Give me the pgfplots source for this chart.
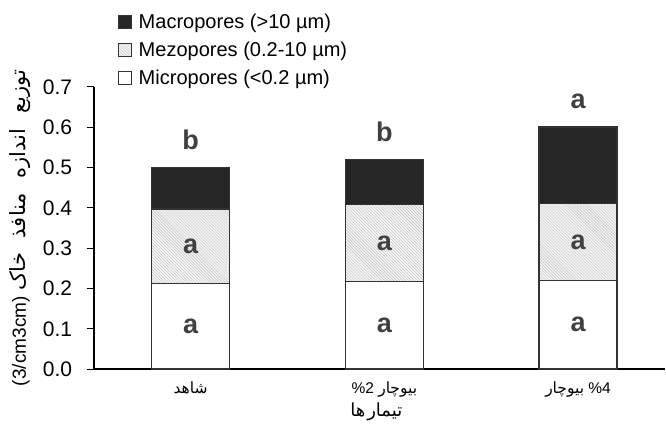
\documentclass[border=0pt]{standalone}
\usepackage{pgfplots}
\pgfplotsset{compat=1.18}
\usetikzlibrary{patterns}
\usepackage{fontspec}
\setmainfont{Liberation Sans}
\newfontfamily\arabicfont[Script=Arabic]{DejaVu Sans}
\TeXXeTstate=1
\definecolor{macro}{HTML}{262626}
\definecolor{edge}{HTML}{333333}
\definecolor{lett}{HTML}{404040}
\newcommand{\fa}[1]{{\arabicfont\beginR #1\endR}}
\begin{document}
\begin{tikzpicture}
  \begin{axis}[
    scale only axis,
    width=571bp,
    height=282bp,
    ybar stacked,
    bar width=78bp,
    xmin=-0.5, xmax=2.45,
    ymin=0, ymax=0.7,
    enlargelimits=false,
    clip=false,
    axis x line=bottom,
    axis y line=left,
    axis line style={-, black, line width=1.6bp},
    xtick={0,1,2},
    xticklabels={
      {\fa{شاهد}},
      {\%2 \fa{بیوچار}},
      {\fa{بیوچار} \%4}},
    major x tick style={draw=none},
    ytick={0,0.1,0.2,0.3,0.4,0.5,0.6,0.7},
    tick align=outside,
    major tick length=7bp,
    y tick style={black, line width=1.2bp},
    /pgf/number format/assume math mode=true,
    yticklabel style={/pgf/number format/.cd, fixed, fixed zerofill, precision=1,
      /tikz/.cd, xshift=-11bp},
    tick label style={font=\fontsize{21bp}{24bp}\selectfont},
    xticklabel style={font=\fontsize{15.5bp}{18bp}\selectfont, yshift=-2bp},
    ylabel={(3/cm3cm) {\fontsize{21bp}{24bp}\selectfont\fa{توزیع\hspace{8bp} اندازه\hspace{8bp} منافذ\hspace{8bp} خاک}}},
    ylabel style={at={(axis description cs:-0.128,0.5)}, anchor=center,
      inner ysep=10bp, font=\fontsize{19bp}{22bp}\selectfont},
    xlabel={\fa{تیمار\hspace{2bp}ها}},
    xlabel style={at={(axis cs:1,0)}, anchor=center, xshift=-8bp, yshift=-43bp, inner ysep=10bp,
      font=\fontsize{18bp}{21bp}\selectfont},
    legend style={at={(axis description cs:0.042,1.3085)}, anchor=north west, draw=none, fill=none,
      font=\fontsize{20bp}{23bp}\selectfont, row sep=8bp, inner xsep=0pt, inner ysep=12bp,
      /tikz/every odd column/.append style={column sep=5bp}},
    legend cell align=left,
    reverse legend,
    legend image code/.code={\draw[#1, line width=0.8bp] (0bp,-6.5bp) rectangle (13bp,6.5bp);},
    nodes near coords,
    point meta=explicit symbolic,
    every node near coord/.append style={font=\bfseries\fontsize{27bp}{30bp}\selectfont, text=lett, anchor=center},
  ]
  % Micropores
  \addplot[fill=white, draw=edge, line width=1.4bp]
    coordinates {(0,0.213)[a] (1,0.218)[a] (2,0.220)[a]};
  % Mezopores
  \addplot[fill=gray!8, draw=edge, line width=1.4bp,
    postaction={pattern=north west lines, pattern color=gray!50}]
    coordinates {(0,0.184)[a] (1,0.190)[a] (2,0.190)[a]};
  % Macropores, letter set above the top of the stack
  \addplot[fill=macro, draw=edge, line width=1.4bp,
    visualization depends on={rawy \as \segh},
    every node near coord/.append style={anchor=south, yshift=\segh*201.43bp+14bp}]
    coordinates {(0,0.103)[b] (1,0.112)[b] (2,0.190)[a]};
  \legend{Micropores (<0.2 µm), Mezopores (0.2-10 µm), Macropores (>10 µm)}
  \end{axis}
\end{tikzpicture}
\end{document}
